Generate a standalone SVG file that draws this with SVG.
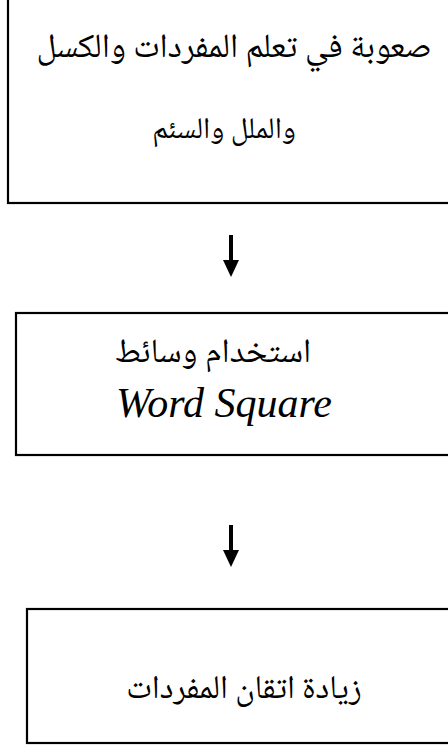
<svg xmlns="http://www.w3.org/2000/svg" width="448" height="747" viewBox="0 0 448 747">
<style>
.box{fill:#fff;stroke:#000;stroke-width:2.2}
.ar{font-family:"Noto Naskh Arabic","Amiri","Noto Sans Arabic","DejaVu Sans",sans-serif;fill:#000;text-anchor:middle;direction:rtl}
.en{font-family:"Liberation Serif","Times New Roman",serif;font-style:italic;fill:#000;text-anchor:middle}
.shaft{stroke:#000;stroke-width:4;fill:none}
</style>
<rect width="448" height="747" fill="#fff"/>
<g id="node1">
<rect class="box" x="8" y="-10" width="460" height="213"/>
<text class="ar" x="234" y="57" font-size="34">صعوبة في تعلم المفردات والكسل</text>
<text class="ar" x="224" y="138" font-size="30">والملل والسئم</text>
</g>
<g id="node2">
<rect class="box" x="16" y="313" width="460" height="142"/>
<text class="ar" x="213" y="362" font-size="34">استخدام وسائط</text>
<text class="en" x="224" y="417" font-size="42">Word Square</text>
</g>
<g id="node3">
<rect class="box" x="27" y="609" width="460" height="134"/>
<text class="ar" x="244" y="698" font-size="33">زيادة اتقان المفردات</text>
</g>
<g id="connectors">
<line class="shaft" x1="231" y1="235" x2="231" y2="261"/>
<polygon points="223,260 239,260 231,277" fill="#000"/>
<line class="shaft" x1="231" y1="525" x2="231" y2="551"/>
<polygon points="223,550 239,550 231,567" fill="#000"/>
</g>
</svg>
